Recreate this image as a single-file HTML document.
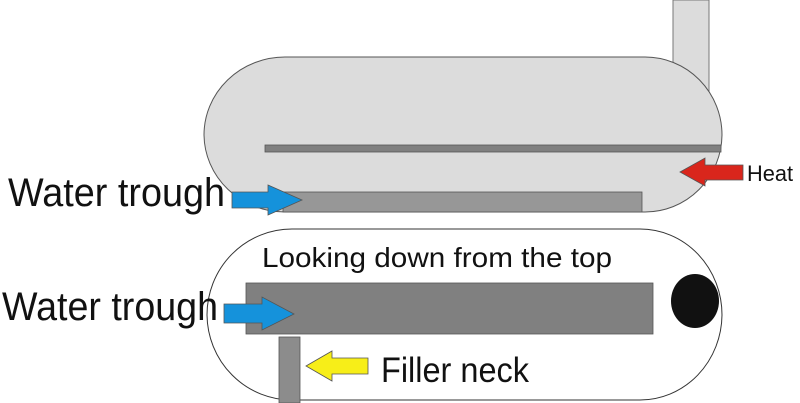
<!DOCTYPE html>
<html><head><style>html,body{margin:0;padding:0;background:#fff}svg{display:block}</style></head>
<body>
<svg width="800" height="403" viewBox="0 0 800 403" xmlns="http://www.w3.org/2000/svg" font-family="Liberation Sans, sans-serif">
<rect x="673" y="0" width="36" height="96" fill="#dcdcdc" stroke="#777" stroke-width="1"/>
<path d="M285,57 L645,57 A77,78 0 0 1 722,135 A77,78 0 0 1 645,212 L285,212 A81,78 0 0 1 204,135 A81,78 0 0 1 285,57 Z" fill="#dcdcdc" stroke="#555" stroke-width="1"/>
<rect x="265" y="145" width="456" height="7" fill="#808080" stroke="#555" stroke-width="0.8"/>
<rect x="283" y="192" width="359" height="20" fill="#979797" stroke="#555" stroke-width="0.8"/>
<polygon points="680,172 705,158 705,165 743,165 743,180 705,180 705,186" fill="#d9261c" stroke="#555" stroke-width="0.8"/>
<text x="747" y="181" font-size="22" textLength="46" lengthAdjust="spacingAndGlyphs" fill="#111">Heat</text>
<polygon points="232,192 268,192 268,185 302,200 268,215 268,208 232,208" fill="#1592db" stroke="#555" stroke-width="0.8"/>
<text x="8" y="206" font-size="40" textLength="217" lengthAdjust="spacingAndGlyphs" fill="#111">Water trough</text>
<path d="M292,229 L640,229 A82,86 0 0 1 722,315 A82,86 0 0 1 640,400 L292,400 A85,86 0 0 1 207,315 A85,86 0 0 1 292,229 Z" fill="#fff" stroke="#333" stroke-width="1"/>
<text x="262" y="267" font-size="28" textLength="350" lengthAdjust="spacingAndGlyphs" fill="#111">Looking down from the top</text>
<rect x="246" y="283" width="407" height="51" fill="#808080" stroke="#555" stroke-width="0.8"/>
<ellipse cx="695" cy="301" rx="24" ry="27" fill="#111"/>
<rect x="279" y="337" width="21" height="66" fill="#8c8c8c" stroke="#555" stroke-width="0.8"/>
<polygon points="224,304 262,304 262,297 294,314 262,330 262,323 224,323" fill="#1592db" stroke="#555" stroke-width="0.8"/>
<text x="2" y="320" font-size="40" textLength="216" lengthAdjust="spacingAndGlyphs" fill="#111">Water trough</text>
<polygon points="306,366 332,351 332,358 368,358 368,374 332,374 332,381" fill="#f7ee18" stroke="#555" stroke-width="0.8"/>
<text x="381" y="382" font-size="35" textLength="148" lengthAdjust="spacingAndGlyphs" fill="#111">Filler neck</text>
</svg>
</body></html>
